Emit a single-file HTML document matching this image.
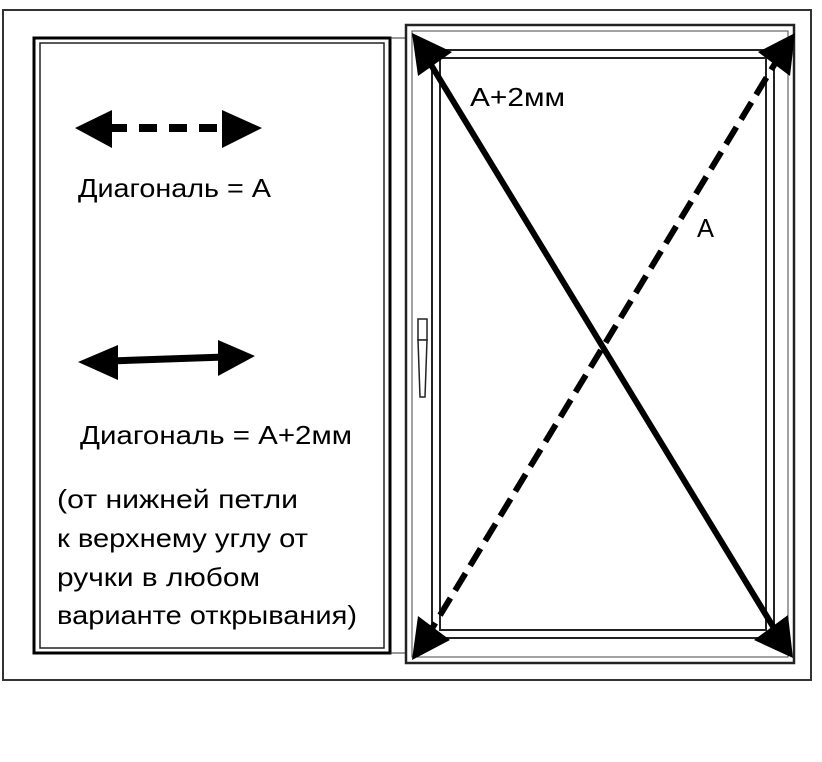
<!DOCTYPE html>
<html><head><meta charset="utf-8"><style>html,body{margin:0;padding:0;background:#fff}svg{display:block}</style></head>
<body>
<svg width="822" height="762" viewBox="0 0 822 762" xmlns="http://www.w3.org/2000/svg" font-family="'Liberation Sans', sans-serif">
<rect x="0" y="0" width="822" height="762" fill="#fff"/>
<rect x="3" y="10" width="808" height="670" fill="none" stroke="#333" stroke-width="2"/>
<rect x="34" y="38" width="356" height="615" fill="none" stroke="#000" stroke-width="3"/>
<rect x="40" y="43" width="344" height="605" fill="none" stroke="#222" stroke-width="1.5"/>
<line x1="390" y1="38" x2="406" y2="38" stroke="#333" stroke-width="1"/>
<line x1="390" y1="653" x2="406" y2="653" stroke="#333" stroke-width="1"/>
<rect x="406" y="25" width="388" height="638" fill="none" stroke="#222" stroke-width="2.5"/>
<rect x="412" y="31" width="376" height="626" fill="none" stroke="#444" stroke-width="1"/>
<rect x="432" y="50" width="342" height="588" fill="none" stroke="#222" stroke-width="2"/>
<rect x="440" y="58" width="326" height="572" fill="none" stroke="#222" stroke-width="2"/>
<rect x="418" y="319" width="9" height="21" fill="#fff" stroke="#222" stroke-width="1.5"/>
<polygon points="418,340 427,340 425,397 420,397" fill="#fff" stroke="#222" stroke-width="1.5"/>
<line x1="422" y1="50" x2="780" y2="638" stroke="#000" stroke-width="6"/>
<line x1="425" y1="640" x2="782" y2="52" stroke="#000" stroke-width="6" stroke-dasharray="20,9"/>
<polygon points="412,33 452,52 418,76" fill="#000"/>
<polygon points="795,33 790,76 758,52" fill="#000"/>
<polygon points="412,660 418,616 450,640" fill="#000"/>
<polygon points="793,658 754,640 788,615" fill="#000"/>
<line x1="105" y1="128" x2="230" y2="128" stroke="#000" stroke-width="8" stroke-dasharray="18,12" stroke-dashoffset="-4"/>
<polygon points="75,128 112,110 112,148" fill="#000"/>
<polygon points="262,128 222,110 222,148" fill="#000"/>
<line x1="110" y1="361" x2="225" y2="357" stroke="#000" stroke-width="7"/>
<polygon points="78,362 118,345 118,380" fill="#000"/>
<polygon points="255,356 218,340 218,376" fill="#000"/>
<g font-size="26" fill="#000">
<text x="78" y="197" textLength="193" lengthAdjust="spacingAndGlyphs">Диагональ = А</text>
<text x="80" y="444" textLength="272" lengthAdjust="spacingAndGlyphs">Диагональ = А+2мм</text>
<text x="57" y="508" textLength="241" lengthAdjust="spacingAndGlyphs">(от нижней петли</text>
<text x="57" y="547" textLength="251" lengthAdjust="spacingAndGlyphs">к верхнему углу от</text>
<text x="57" y="586" textLength="203" lengthAdjust="spacingAndGlyphs">ручки в любом</text>
<text x="57" y="624" textLength="300" lengthAdjust="spacingAndGlyphs">варианте открывания)</text>
<text x="470" y="106" textLength="95" lengthAdjust="spacingAndGlyphs">А+2мм</text>
<text x="697" y="237" textLength="17" lengthAdjust="spacingAndGlyphs">А</text>
</g>
</svg>
</body></html>
